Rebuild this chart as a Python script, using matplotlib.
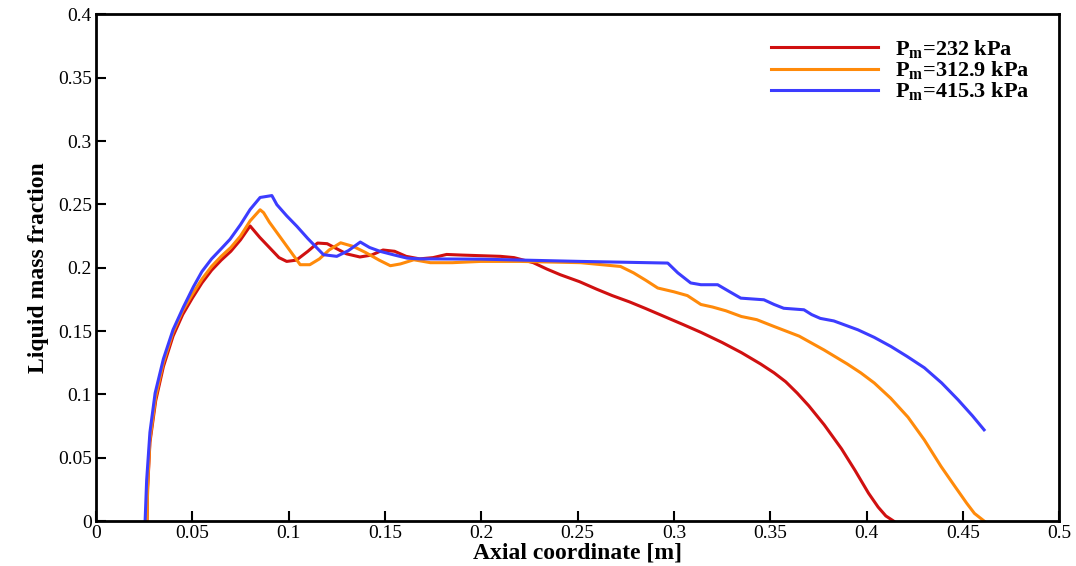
import matplotlib
matplotlib.use('Agg')
import matplotlib.pyplot as plt
from matplotlib.ticker import MultipleLocator, FuncFormatter

plt.rcParams['font.family'] = ['Liberation Serif', 'DejaVu Serif']
plt.rcParams['mathtext.fontset'] = 'custom'
plt.rcParams['mathtext.rm'] = 'Liberation Serif:bold'
plt.rcParams['mathtext.bf'] = 'Liberation Serif:bold'

# series values
x_232 = [0.0265, 0.0268, 0.028, 0.031, 0.035, 0.040, 0.045, 0.050, 0.055, 0.060,
         0.065, 0.070, 0.075, 0.080, 0.085, 0.090, 0.095, 0.099, 0.104, 0.110,
         0.115, 0.120, 0.125, 0.130, 0.137, 0.143, 0.149, 0.155, 0.161, 0.168,
         0.175, 0.182, 0.190, 0.200, 0.210, 0.217, 0.222, 0.227, 0.234, 0.241,
         0.251, 0.260, 0.268, 0.277, 0.285, 0.295, 0.305, 0.314, 0.325, 0.335,
         0.345, 0.352, 0.358, 0.364, 0.370, 0.378, 0.387, 0.394, 0.401, 0.406,
         0.410, 0.414]
y_232 = [0, 0.025, 0.062, 0.095, 0.122, 0.146, 0.163, 0.176, 0.188, 0.198,
         0.206, 0.213, 0.222, 0.233, 0.224, 0.216, 0.208, 0.205, 0.206, 0.213,
         0.2195, 0.219, 0.215, 0.211, 0.2085, 0.210, 0.214, 0.213, 0.209, 0.207,
         0.208, 0.2105, 0.210, 0.2095, 0.209, 0.208, 0.206, 0.204, 0.199, 0.1945,
         0.189, 0.183, 0.178, 0.173, 0.168, 0.1615, 0.155, 0.149, 0.141, 0.133,
         0.124, 0.117, 0.110, 0.101, 0.091, 0.076, 0.057, 0.040, 0.022, 0.011,
         0.004, 0]

x_312 = [0.0265, 0.0268, 0.028, 0.031, 0.035, 0.040, 0.045, 0.050, 0.055, 0.060,
         0.065, 0.070, 0.075, 0.080, 0.0852, 0.087, 0.090, 0.094, 0.100, 0.106,
         0.111, 0.116, 0.121, 0.127, 0.1336, 0.140, 0.147, 0.1528, 0.158, 0.165,
         0.1736, 0.185, 0.1996, 0.220, 0.2516, 0.2723, 0.279, 0.2855, 0.2916, 0.300,
         0.307, 0.314, 0.320, 0.327, 0.335, 0.343, 0.352, 0.365, 0.378, 0.390,
         0.397, 0.404, 0.4125, 0.4215, 0.430, 0.4387, 0.446, 0.452, 0.456, 0.461]
y_312 = [0, 0.027, 0.064, 0.098, 0.125, 0.149, 0.166, 0.179, 0.191, 0.201,
         0.209, 0.216, 0.225, 0.237, 0.2458, 0.2435, 0.236, 0.2276, 0.215, 0.2024,
         0.2024, 0.207, 0.214, 0.2197, 0.2168, 0.212, 0.206, 0.2016, 0.203, 0.2063,
         0.204, 0.204, 0.205, 0.205, 0.204, 0.201, 0.196, 0.190, 0.184, 0.181,
         0.178, 0.171, 0.169, 0.166, 0.1615, 0.159, 0.1536, 0.146, 0.135, 0.124,
         0.117, 0.109, 0.097, 0.082, 0.064, 0.043, 0.027, 0.014, 0.006, 0]

x_415 = [0.0255, 0.0263, 0.028, 0.0307, 0.035, 0.040, 0.0454, 0.0506, 0.055, 0.060,
         0.065, 0.0696, 0.075, 0.080, 0.0852, 0.0913, 0.0939, 0.099, 0.1043, 0.110,
         0.1181, 0.125, 0.131, 0.1372, 0.142, 0.1476, 0.155, 0.1615, 0.168, 0.1996,
         0.2516, 0.2968, 0.302, 0.3087, 0.314, 0.3227, 0.329, 0.3347, 0.3467, 0.352,
         0.357, 0.3675, 0.3715, 0.376, 0.383, 0.3955, 0.404, 0.4127, 0.421, 0.430,
         0.439, 0.4475, 0.455, 0.461]
y_415 = [0, 0.032, 0.070, 0.101, 0.128, 0.151, 0.169, 0.185, 0.197, 0.207,
         0.215, 0.2225, 0.234, 0.246, 0.2555, 0.257, 0.2498, 0.241, 0.2327, 0.223,
         0.2103, 0.209, 0.2135, 0.2203, 0.216, 0.2129, 0.210, 0.2076, 0.207, 0.2068,
         0.205, 0.2037, 0.196, 0.188, 0.1866, 0.1866, 0.181, 0.176, 0.1747, 0.171,
         0.168, 0.1668, 0.163, 0.160, 0.158, 0.151, 0.145, 0.1378, 0.130, 0.121,
         0.109, 0.0957, 0.083, 0.072]

labels = [r'P$_\mathbf{m}$=232 kPa', r'P$_\mathbf{m}$=312.9 kPa', r'P$_\mathbf{m}$=415.3 kPa']
colors = ['#d01010', '#ff8a0a', '#3c3cff']

fig = plt.figure(figsize=(10.76, 5.66), dpi=100)
ax = fig.add_axes([0.0892, 0.0795, 0.8952, 0.8949])

for xs, ys, lab, c in zip([x_232, x_312, x_415], [y_232, y_312, y_415], labels, colors):
    ax.plot(xs, ys, color=c, lw=2.2, label=lab)

ax.set_xlim(0, 0.5)
ax.set_ylim(0, 0.4)
ax.xaxis.set_major_locator(MultipleLocator(0.05))
ax.yaxis.set_major_locator(MultipleLocator(0.05))
fmt = FuncFormatter(lambda v, p: '%g' % round(v, 3))
ax.xaxis.set_major_formatter(fmt)
ax.yaxis.set_major_formatter(fmt)
ax.tick_params(direction='in', length=7, width=1.5, labelsize=14, pad=3)
for s in ax.spines.values():
    s.set_linewidth(2)

ax.set_xlabel('Axial coordinate [m]', fontsize=17, fontweight='bold', labelpad=0)
ax.set_ylabel('Liquid mass fraction', fontsize=17, fontweight='bold', labelpad=6)

leg = ax.legend(loc='upper left', bbox_to_anchor=(0.68, 0.993), frameon=False,
                handlelength=4.8, handletextpad=0.8, labelspacing=-0.06,
                prop={'family': 'Liberation Serif', 'weight': 'bold', 'size': 16})

fig.savefig('out.png', dpi=100)
